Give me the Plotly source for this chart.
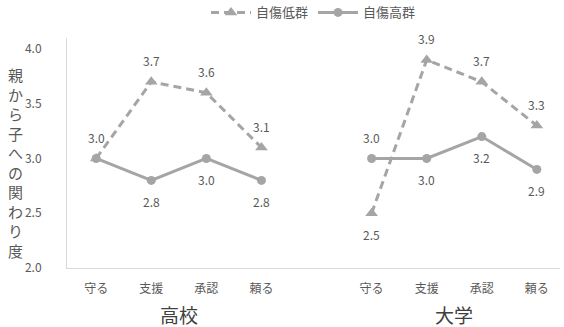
import plotly.graph_objects as go

# Category positions: two school groups separated by a one-slot gap
items = ["守る", "支援", "承認", "頼る"]
groups = ["高校", "大学"]
x_pos = [0, 1, 2, 3, 5, 6, 7, 8]
tick_text = items + items

low_vals = [3.0, 3.7, 3.6, 3.1, 2.5, 3.9, 3.7, 3.3]   # 自傷低群
high_vals = [3.0, 2.8, 3.0, 2.8, 3.0, 3.0, 3.2, 2.9]  # 自傷高群

# label placement: +1 above the point, -1 below, 0 hidden
low_side = [1, 1, 1, 1, -1, 1, 1, 1]
high_side = [0, -1, -1, -1, 1, -1, -1, -1]

series_color = "#a5a5a5"
text_color = "#595959"
font_family = "Noto Sans CJK JP, Noto Sans, sans-serif"

fig = go.Figure()
for part, show in ((slice(0, 4), True), (slice(4, 8), False)):
    fig.add_trace(go.Scatter(
        x=x_pos[part], y=low_vals[part], name="自傷低群", mode="lines+markers",
        line=dict(color=series_color, width=3, dash="8px,5px"),
        marker=dict(symbol="triangle-up", size=11, color=series_color),
        legendgroup="low", showlegend=show, legendrank=1,
    ))
for part, show in ((slice(0, 4), True), (slice(4, 8), False)):
    fig.add_trace(go.Scatter(
        x=x_pos[part], y=high_vals[part], name="自傷高群", mode="lines+markers",
        line=dict(color=series_color, width=3),
        marker=dict(symbol="circle", size=9, color=series_color),
        legendgroup="high", showlegend=show, legendrank=2,
    ))

annotations = []
for vals, sides in ((low_vals, low_side), (high_vals, high_side)):
    for xv, yv, s in zip(x_pos, vals, sides):
        if s == 0:
            continue
        annotations.append(dict(
            x=xv, y=yv, xref="x", yref="y", text=f"{yv:.1f}", showarrow=False,
            yshift=21 * s, font=dict(size=12, color=text_color, family=font_family),
        ))

# group titles under the category labels
for gx, g in zip([1.5, 6.5], groups):
    annotations.append(dict(
        x=gx, y=0, xref="x", yref="paper", yanchor="middle", text=g,
        showarrow=False, yshift=-46, borderpad=0,
        font=dict(size=19, color="#404040", family=font_family),
    ))

# stacked vertical axis title
axis_title = "親から子への関わり度"
annotations.append(dict(
    x=-0.105, y=0.46, xref="paper", yref="paper", text="<br>".join(axis_title),
    xanchor="center", yanchor="middle", showarrow=False,
    font=dict(size=15, color=text_color, family=font_family),
))

fig.update_layout(
    width=564, height=327,
    margin=dict(l=67, r=4, t=38, b=59),
    paper_bgcolor="white", plot_bgcolor="white",
    font=dict(family=font_family, color=text_color, size=12),
    showlegend=True,
    legend=dict(orientation="h", x=0.5, xanchor="center", y=0.962, yanchor="middle",
                yref="container", font=dict(size=13, color=text_color),
                itemwidth=40, tracegroupgap=0),
    annotations=annotations,
    xaxis=dict(
        range=[-0.53, 8.42], tickvals=x_pos, ticktext=tick_text,
        showgrid=False, zeroline=False, showline=True, linecolor="#d9d9d9",
        linewidth=1, ticks="", ticklabelstandoff=10,
        tickfont=dict(size=12, color=text_color),
    ),
    yaxis=dict(
        range=[2.0, 4.10], tickvals=[2.0, 2.5, 3.0, 3.5, 4.0],
        tickformat=".1f", showgrid=False, zeroline=False, showline=True,
        linecolor="#d9d9d9", linewidth=1, ticks="", ticklabelstandoff=22,
        tickfont=dict(size=12, color=text_color),
    ),
)

fig.write_html("out.html")
